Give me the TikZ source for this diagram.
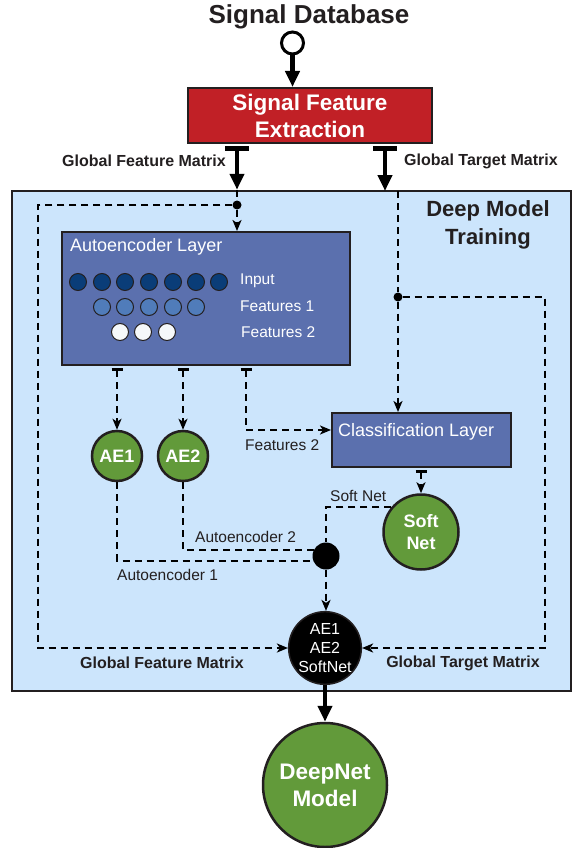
\documentclass[tikz,border=0pt]{standalone}
\usepackage{fontspec}
\setmainfont{Liberation Sans}
\usetikzlibrary{arrows.meta,calc}
\definecolor{redbox}{RGB}{193,32,38}
\definecolor{bgblue}{RGB}{204,229,252}
\definecolor{layerblue}{RGB}{91,112,174}
\definecolor{incol}{RGB}{10,61,120}
\definecolor{f1col}{RGB}{80,124,186}
\definecolor{f2col}{RGB}{245,248,250}
\definecolor{greencol}{RGB}{98,154,58}
\definecolor{darktxt}{RGB}{35,31,32}
\begin{document}
\begin{tikzpicture}[x=1pt,y=-1pt,
  dline/.style={line width=2pt,dash pattern=on 7pt off 5pt,draw=black},
  darr/.style={dline,-{Stealth[length=11pt,width=9pt,inset=3pt]}},
  dtee/.style={dline,{Bar[width=11pt,line width=3pt]}-{Stealth[length=11pt,width=9pt,inset=3pt]}},
  tarr/.style={line width=4.5pt,-{Triangle[length=16pt,width=14pt]}},
  ttee/.style={line width=4.5pt,{Bar[width=24pt,line width=5pt]}-{Triangle[length=16pt,width=14pt]}},
  dotnode/.style={circle,fill=black,inner sep=0pt,minimum size=#1},
  gcirc/.style={circle,draw=darktxt,line width=2.5pt,fill=greencol,text=white,inner sep=0pt,minimum size=#1,align=center},
  layerbox/.style={draw=darktxt,line width=2pt,fill=layerblue,inner sep=0pt},
  neuron/.style={circle,draw=darktxt,line width=1pt,inner sep=0pt,minimum size=17pt},
  wlbl/.style={text=white,font=\fontsize{15.5}{18}\selectfont,anchor=west,inner sep=0pt},
  dlbl/.style={text=darktxt,font=\fontsize{15.5}{18}\selectfont,inner sep=0pt},
  blbl/.style={text=darktxt,font=\bfseries\fontsize{16}{19}\selectfont,inner sep=0pt}
]
\useasboundingbox (0,0) rectangle (573,848);

% title
\node[text=darktxt,font=\bfseries\fontsize{26}{30}\selectfont] (db) at (309,17) {Signal Database};
\node[circle,draw=black,line width=3pt,fill=white,minimum size=22pt,inner sep=0pt] (src) at (292.5,43) {};

% feature extraction
\node[draw=darktxt,line width=2pt,fill=redbox,minimum width=244pt,minimum height=55pt,inner sep=0pt,
  text=white,align=center,font=\bfseries\fontsize{22.5}{27}\selectfont] (sfe) at (310,115.5) {Signal Feature\\Extraction};
\draw[tarr] (src.south) -- (src.south |- sfe.north);

% big training box
\node[draw=darktxt,line width=2.5pt,fill=bgblue,minimum width=559pt,minimum height=500pt,inner sep=0pt] (dmt) at (291.5,441) {};
\node[text=darktxt,align=center,font=\bfseries\fontsize{22}{28}\selectfont] (dmtl) at (488,225) {Deep Model\\Training};

% dots
\node[dotnode=9pt] (dotA) at (237,205) {};
\node[dotnode=9pt] (dotB) at (398,297) {};
\node[dotnode=27pt] (dotC) at (326,556) {};

% thick arrows from extraction
\draw[ttee] ([yshift=-2pt]sfe.south -| dotA) -- (dotA |- dmt.north);
\draw[ttee] ([yshift=-2pt]sfe.south -| 385,0) -- (385,191);
\node[blbl,anchor=east] (gfm1) at (226,161) {Global Feature Matrix};
\node[blbl,anchor=west] (gtm1) at (404,161) {Global Target Matrix};

% autoencoder layer
\node[layerbox,minimum width=288pt,minimum height=133pt] (ael) at (206,298.5) {};
\node[text=white,font=\fontsize{18}{21}\selectfont,anchor=west,inner sep=0pt] (aelt) at (70,247) {Autoencoder Layer};
\foreach \x [count=\i] in {78,102,125,149,173,196,219}
  \node[neuron,fill=incol] (in\i) at (\x,282) {};
\foreach \x [count=\i] in {102,125,149,173,196}
  \node[neuron,fill=f1col] (fa\i) at (\x,307) {};
\foreach \x [count=\i] in {120,143,167}
  \node[neuron,fill=f2col] (fb\i) at (\x,332) {};
\node[wlbl] (linp) at (240,281) {Input};
\node[wlbl] (lf1) at (240,306) {Features 1};
\node[wlbl] (lf2) at (241,332) {Features 2};

% classification layer
\node[layerbox,minimum width=179pt,minimum height=54pt] (cls) at (421.5,440) {};
\node[text=white,font=\fontsize{18}{21}\selectfont,anchor=west,inner sep=0pt] (clst) at (338,432) {Classification Layer};

% circles
\node[gcirc=50pt,font=\bfseries\fontsize{18}{21}\selectfont] (ae1) at (117,456) {AE1};
\node[gcirc=50pt,font=\bfseries\fontsize{18}{21}\selectfont] (ae2) at (183,456) {AE2};
\node[gcirc=75pt,font=\bfseries\fontsize{18}{22}\selectfont] (sn) at (421,532) {Soft\\Net};
\node[circle,draw=darktxt,line width=1.5pt,fill=black,text=white,inner sep=0pt,minimum size=72pt,align=center,
  font=\fontsize{16}{19}\selectfont] (bc) at (325,648) {AE1\\AE2\\SoftNet};
\node[gcirc=124pt,font=\bfseries\fontsize{22.5}{27}\selectfont] (dn) at (325,785) {DeepNet\\Model};

% dashed flows (feature matrix)
\draw[dline] (dotA |- dmt.north) -- (dotA);
\draw[darr] (dotA) -- (dotA |- ael.north);
\draw[darr] (dotA) -- (38,205) -- (38,648) -- (bc.west);
\node[blbl] (gfm2) at (162,663) {Global Feature Matrix};

% dashed flows (target matrix)
\draw[dline] (398,191) -- (dotB);
\draw[darr] (dotB) -- (dotB |- cls.north);
\draw[darr] (dotB) -- (545,297) -- (545,648) -- (bc.east);
\node[blbl] (gtm2) at (463,663) {Global Target Matrix};

% autoencoder outputs
\draw[dtee] ([yshift=-2pt]ael.south -| ae1) -- (ae1.north);
\draw[dtee] ([yshift=-2pt]ael.south -| ae2) -- (ae2.north);
\draw[dtee] ([yshift=-2pt]ael.south -| 246,0) -- (246,430) -- (cls.west |- 0,430);
\node[dlbl,anchor=north west] (lf2b) at (245,439) {Features 2};

\draw[dtee] ([yshift=-2pt]cls.south -| sn) -- (sn.north);

\draw[dline] (ae1.south) |- (dotC.200);
\draw[dline] (ae2.south) |- (dotC.155);
\draw[dline] (sn.140) -- (sn.140 -| dotC) -- (dotC.north);
\node[dlbl,anchor=west] (lae2) at (195,537) {Autoencoder 2};
\node[dlbl,anchor=west] (lae1) at (117,575) {Autoencoder 1};
\node[dlbl,anchor=west] (lsn) at (330,496) {Soft Net};

\draw[darr] (dotC.south) -- (bc.north -| dotC);

% final
\draw[tarr] (bc.south) -- (dn.north);
\end{tikzpicture}
\end{document}
